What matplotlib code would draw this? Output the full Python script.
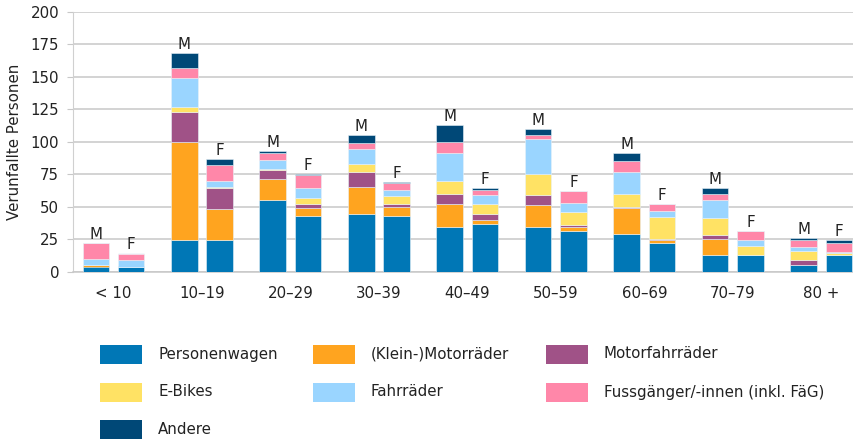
import matplotlib
matplotlib.use("Agg")
import matplotlib.pyplot as plt
from matplotlib.patches import Rectangle
import numpy as np

plt.rcParams['font.family'] = ['DejaVu Sans']

categories = ["< 10", "10–19", "20–29", "30–39", "40–49", "50–59", "60–69", "70–79", "80 +"]
series_names = ["Personenwagen", "(Klein-)Motorräder", "Motorfahrräder", "E-Bikes",
                "Fahrräder", "Fussgänger/-innen (inkl. FäG)", "Andere"]
colors = ["#0077b6", "#ffa41f", "#a05287", "#ffe264", "#9ad5ff", "#ff87a9", "#004877"]

# Männer (M) per age group, per series
m_personenwagen = [4, 24, 55, 44, 34, 34, 29, 13, 5]
m_motorraeder   = [1, 76, 16, 21, 18, 17, 20, 12, 0]
m_motorfahrr    = [0, 23, 7, 12, 8, 8, 1, 3, 4]
m_ebikes        = [0, 4, 1, 6, 10, 16, 10, 13, 7]
m_fahrraeder    = [5, 22, 7, 11, 21, 27, 17, 14, 3]
m_fussgaenger   = [12, 8, 5, 5, 9, 3, 8, 5, 5]
m_andere        = [0, 11, 2, 6, 13, 5, 6, 4, 2]

# Frauen (F) per age group, per series
f_personenwagen = [4, 24, 43, 43, 37, 31, 22, 13, 13]
f_motorraeder   = [0, 24, 6, 7, 3, 3, 2, 0, 0]
f_motorfahrr    = [0, 16, 3, 2, 4, 2, 1, 0, 0]
f_ebikes        = [0, 1, 5, 6, 8, 10, 17, 7, 1]
f_fahrraeder    = [5, 5, 7, 5, 7, 7, 5, 4, 1]
f_fussgaenger   = [5, 12, 10, 5, 4, 9, 5, 7, 7]
f_andere        = [0, 5, 1, 1, 1, 0, 0, 0, 2]

m_data = [m_personenwagen, m_motorraeder, m_motorfahrr, m_ebikes, m_fahrraeder, m_fussgaenger, m_andere]
f_data = [f_personenwagen, f_motorraeder, f_motorfahrr, f_ebikes, f_fahrraeder, f_fussgaenger, f_andere]

W, H = 854, 441
FS = 10.8
fig = plt.figure(figsize=(W / 100, H / 100), dpi=100)
ax = fig.add_axes([73 / W, 1 - 271.7 / H, (W - 73) / W, (271.7 - 11.7) / H])

x = np.arange(len(categories))
bw = 0.30
off = 0.2
for data, sign, lab in [(m_data, -1, "M"), (f_data, 1, "F")]:
    bottom = np.zeros(len(categories))
    for vals, c in zip(data, colors):
        v = np.array(vals, dtype=float)
        ax.bar(x + sign * off, v, bw, bottom=bottom, color=c, edgecolor="#e8f2f8",
               linewidth=0.4, zorder=3)
        bottom += v
    for xi, tot in zip(x, bottom):
        ax.text(xi + sign * off, tot + 0.8, lab, ha="center", va="bottom", fontsize=FS,
                color="#222222", zorder=4)

ax.set_ylim(0, 200)
ax.set_xlim(-0.458, 8.37)
ax.set_yticks(np.arange(0, 201, 25))
ax.set_xticks(x)
ax.set_xticklabels(categories)
ax.yaxis.grid(True, color="#c8c8c8", linewidth=1.1, zorder=0)
ax.set_axisbelow(True)
for s in ["top", "right"]:
    ax.spines[s].set_visible(False)
ax.spines["left"].set_color("#d0d0d0")
ax.spines["bottom"].set_color("#c8c8c8")
ax.spines["bottom"].set_linewidth(1.1)
ax.tick_params(axis="y", length=4, color="#c8c8c8", labelsize=FS, labelcolor="#222222", pad=6)
ax.tick_params(axis="x", length=0, labelsize=FS, labelcolor="#222222", pad=10)
ax.set_ylabel("Verunfallte Personen", fontsize=FS, color="#222222", labelpad=6)

# legend (manual layout, order row-wise as in the reference)
col_x = [100, 313, 546]
row_y = [354, 392, 429]
for i, (name, c) in enumerate(zip(series_names, colors)):
    r, k = divmod(i, 3)
    px, py = col_x[k], row_y[r]
    fig.add_artist(Rectangle((px / W, 1 - (py + 9.5) / H), 42 / W, 19 / H,
                             transform=fig.transFigure, facecolor=c, edgecolor="none"))
    fig.text((px + 58) / W, 1 - py / H, name, ha="left", va="center", fontsize=FS,
             color="#222222")

fig.savefig("out.png", dpi=100)
